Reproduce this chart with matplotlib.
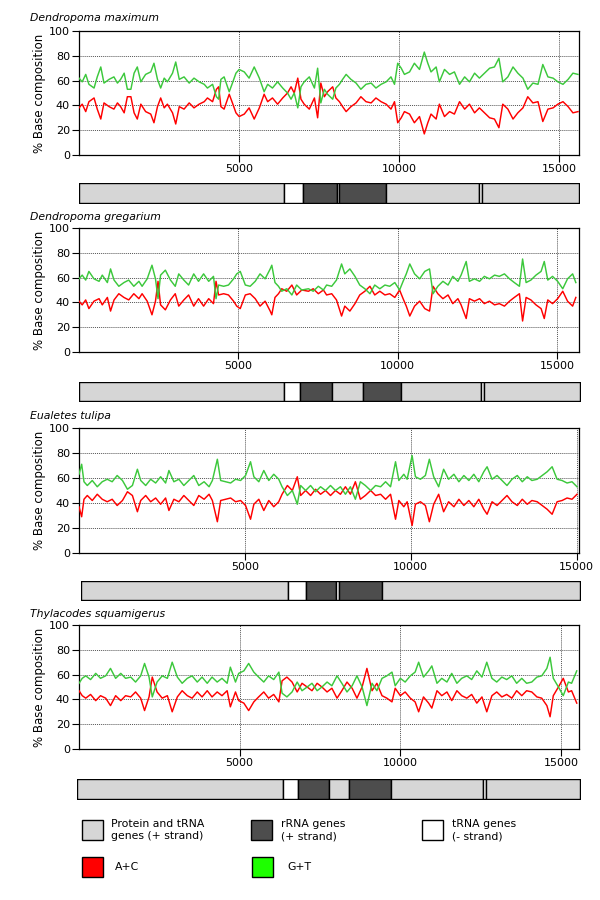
import numpy as np
import matplotlib
matplotlib.use("Agg")
import matplotlib.pyplot as plt
from matplotlib.patches import Rectangle

# Sliding-window base composition (% A+C) along four vermetid mitogenomes.
# G+T is the complement: 100 - (A+C)

species = ["Dendropoma maximum", "Dendropoma gregarium",
           "Eualetes tulipa", "Thylacodes squamigerus"]
genome_len = [15610, 15690, 15070, 15560]

pos_1 = [0, 100, 210, 310, 470, 570, 680, 780, 940, 1090,
         1200, 1300, 1410, 1510, 1620, 1720, 1820, 1930, 2080, 2240,
         2340, 2450, 2550, 2660, 2760, 2920, 3020, 3130, 3280, 3440,
         3590, 3750, 3910, 4010, 4170, 4290, 4360, 4430, 4530, 4690,
         4790, 4900, 5000, 5160, 5310, 5470, 5630, 5780, 5890, 6040,
         6200, 6360, 6510, 6620, 6720, 6830, 6930, 7030, 7190, 7350,
         7450, 7550, 7660, 7760, 7920, 8020, 8130, 8230, 8340, 8490,
         8650, 8800, 8960, 9120, 9270, 9430, 9590, 9740, 9850, 9950,
         10060, 10160, 10320, 10470, 10630, 10780, 10890, 10990, 11150, 11250,
         11410, 11570, 11720, 11880, 12040, 12190, 12350, 12500, 12660, 12820,
         12970, 13110, 13230, 13390, 13550, 13700, 13860, 14010, 14170, 14330,
         14480, 14640, 14800, 14950, 15110, 15270, 15420, 15580]
ac_1 = [38, 41, 35, 43, 46, 37, 29, 42, 39, 37,
        42, 39, 34, 47, 47, 34, 29, 41, 35, 33,
        26, 39, 46, 38, 41, 34, 25, 39, 37, 42,
        38, 41, 43, 46, 43, 53, 55, 39, 37, 49,
        42, 34, 31, 33, 38, 29, 38, 49, 43, 46,
        41, 46, 50, 55, 50, 62, 45, 41, 37, 46,
        30, 58, 47, 51, 55, 46, 43, 39, 35, 39,
        42, 47, 43, 42, 46, 43, 41, 37, 43, 26,
        30, 35, 33, 26, 31, 17, 26, 33, 29, 41,
        31, 35, 33, 43, 37, 41, 34, 38, 34, 30,
        29, 22, 41, 37, 29, 34, 38, 47, 42, 43,
        27, 37, 38, 41, 43, 39, 34, 35]

pos_2 = [0, 100, 210, 310, 470, 630, 730, 890, 990, 1100,
         1250, 1410, 1560, 1720, 1880, 1980, 2140, 2290, 2400, 2480,
         2560, 2710, 2870, 3020, 3130, 3290, 3440, 3600, 3750, 3910,
         4070, 4220, 4300, 4380, 4540, 4690, 4850, 4950, 5060, 5220,
         5370, 5530, 5680, 5840, 6000, 6050, 6150, 6260, 6360, 6520,
         6680, 6830, 6990, 7200, 7350, 7510, 7670, 7770, 7930, 8080,
         8240, 8340, 8500, 8660, 8810, 8970, 9130, 9280, 9440, 9600,
         9750, 9910, 10060, 10170, 10270, 10380, 10530, 10690, 10850, 11000,
         11110, 11260, 11420, 11580, 11730, 11890, 11990, 12150, 12250, 12410,
         12570, 12720, 12880, 13040, 13190, 13350, 13510, 13660, 13820, 13920,
         14030, 14180, 14340, 14500, 14600, 14710, 14860, 15020, 15180, 15330,
         15490, 15590]
ac_2 = [41, 38, 42, 35, 41, 43, 38, 44, 33, 42,
        47, 44, 42, 47, 43, 47, 41, 30, 41, 57,
        38, 34, 42, 47, 37, 42, 46, 37, 43, 37,
        43, 39, 57, 46, 47, 46, 41, 37, 35, 46,
        47, 43, 37, 41, 33, 30, 44, 47, 51, 49,
        54, 46, 50, 49, 51, 47, 50, 46, 47, 42,
        29, 37, 33, 39, 46, 49, 53, 46, 49, 46,
        47, 44, 50, 43, 37, 29, 37, 41, 35, 33,
        53, 47, 43, 46, 39, 43, 38, 27, 43, 41,
        43, 39, 41, 38, 39, 37, 41, 44, 47, 25,
        44, 42, 38, 35, 27, 42, 39, 43, 49, 41,
        37, 44]

pos_3 = [0, 80, 150, 250, 400, 550, 700, 850, 1000, 1150,
         1310, 1460, 1610, 1760, 1860, 2010, 2160, 2310, 2460, 2610,
         2710, 2860, 3010, 3160, 3310, 3460, 3610, 3770, 3920, 4020,
         4170, 4270, 4420, 4570, 4720, 4870, 5020, 5170, 5270, 5420,
         5570, 5720, 5870, 6020, 6120, 6280, 6430, 6580, 6680, 6830,
         6980, 7130, 7280, 7430, 7580, 7730, 7880, 8030, 8180, 8330,
         8480, 8630, 8790, 8940, 9090, 9240, 9390, 9540, 9640, 9790,
         9890, 10040, 10140, 10290, 10440, 10560, 10690, 10840, 10990, 11140,
         11300, 11450, 11600, 11750, 11900, 12050, 12200, 12300, 12450, 12600,
         12750, 12900, 13050, 13210, 13360, 13510, 13650, 13810, 13960, 14110,
         14260, 14410, 14560, 14710, 14860, 15010]
ac_3 = [37, 29, 43, 46, 42, 47, 43, 41, 43, 38,
        42, 49, 46, 33, 42, 46, 41, 44, 39, 44,
        34, 43, 41, 46, 42, 38, 46, 43, 47, 42,
        25, 42, 43, 44, 41, 42, 38, 27, 39, 43,
        34, 42, 37, 41, 47, 54, 50, 61, 46, 50,
        46, 51, 47, 50, 46, 50, 47, 53, 47, 57,
        43, 46, 50, 46, 47, 43, 47, 27, 42, 37,
        41, 22, 39, 41, 38, 25, 39, 47, 33, 41,
        37, 43, 38, 42, 37, 43, 35, 31, 41, 38,
        42, 46, 41, 38, 43, 39, 42, 41, 38, 35,
        31, 41, 42, 44, 43, 47]

pos_4 = [0, 100, 210, 360, 520, 670, 830, 980, 1140, 1300,
         1450, 1610, 1760, 1920, 2040, 2180, 2280, 2430, 2590, 2750,
         2900, 3060, 3210, 3370, 3520, 3680, 3830, 3990, 4140, 4300,
         4450, 4610, 4710, 4870, 4970, 5130, 5280, 5440, 5590, 5750,
         5900, 6060, 6220, 6320, 6470, 6630, 6790, 6940, 7100, 7250,
         7410, 7560, 7720, 7870, 8030, 8180, 8340, 8500, 8650, 8810,
         8960, 9120, 9270, 9430, 9580, 9740, 9840, 10000, 10150, 10310,
         10460, 10570, 10720, 10880, 10980, 11140, 11290, 11450, 11600, 11760,
         11910, 12070, 12220, 12380, 12540, 12690, 12850, 13000, 13160, 13310,
         13470, 13620, 13780, 13930, 14090, 14250, 14400, 14560, 14660, 14760,
         14920, 15070, 15230, 15330, 15490]
ac_4 = [47, 43, 41, 44, 39, 43, 41, 35, 43, 39,
        43, 42, 46, 41, 31, 42, 58, 46, 41, 43,
        30, 42, 47, 43, 41, 46, 42, 47, 42, 46,
        43, 47, 34, 46, 39, 37, 31, 38, 42, 46,
        41, 44, 38, 55, 58, 54, 46, 53, 50, 47,
        53, 50, 46, 49, 41, 47, 54, 49, 41, 50,
        65, 47, 53, 43, 41, 38, 49, 43, 46, 41,
        38, 30, 42, 37, 33, 47, 43, 46, 39, 47,
        43, 41, 44, 37, 42, 30, 43, 46, 42, 44,
        41, 47, 43, 47, 46, 42, 41, 35, 26, 43,
        50, 57, 46, 47, 37]

# Gene maps: segment boundaries (bp) and kind of each segment
# P = protein and tRNA genes (+), R = rRNA genes (+), N = tRNA genes (-)
map_edges_1 = [0, 6400, 7000, 8050, 8120, 9580, 12480, 12570, 15610]
map_kinds_1 = ["P", "N", "R", "N", "R", "P", "N", "P"]
map_edges_2 = [0, 6420, 6910, 7920, 8880, 10070, 12600, 12690, 15690]
map_kinds_2 = ["P", "N", "R", "P", "R", "P", "N", "P"]
map_edges_3 = [0, 6250, 6810, 7700, 7800, 9090, 15070]
map_kinds_3 = ["P", "N", "R", "N", "R", "P"]
map_edges_4 = [0, 6370, 6850, 7800, 8410, 9710, 12550, 12640, 15560]
map_kinds_4 = ["P", "N", "R", "P", "R", "P", "N", "P"]

x_ticks = [5000, 10000, 15000]
y_ticks = [0, 20, 40, 60, 80, 100]

positions = [pos_1, pos_2, pos_3, pos_4]
ac_values = [ac_1, ac_2, ac_3, ac_4]
map_edges = [map_edges_1, map_edges_2, map_edges_3, map_edges_4]
map_kinds = [map_kinds_1, map_kinds_2, map_kinds_3, map_kinds_4]

kind_color = {"P": "#d6d6d6", "R": "#4d4d4d", "N": "#ffffff"}
red = "#ff0000"
green = "#3cc83c"

W, H = 600, 900


def px_rect(x0, y0, x1, y1):
    # pixel box (top-left origin) -> figure fraction rect
    return [x0 / W, 1 - y1 / H, (x1 - x0) / W, (y1 - y0) / H]


# pixel layout of each panel: plot box, gene-map box, title y
plot_boxes = [(79, 31, 579, 155), (79, 228, 579, 352),
              (79, 428, 579, 553), (79, 625, 579, 749)]
map_boxes = [(79, 183, 579, 203), (79, 382, 580, 401),
             (81, 581, 580, 600), (77, 779, 580, 799)]
title_y = [18, 217, 416, 614]

plt.rcParams["font.family"] = "DejaVu Sans"
fig = plt.figure(figsize=(6, 9), dpi=100)

for i in range(4):
    ax = fig.add_axes(px_rect(*plot_boxes[i]))
    x = np.array(positions[i])
    ac = np.array(ac_values[i])
    gt = 100 - ac

    ax.plot(x, ac, color=red, lw=1.05, zorder=3)
    ax.plot(x, gt, color=green, lw=1.05, zorder=3)

    ax.set_xlim(0, genome_len[i])
    ax.set_ylim(0, 100)
    ax.set_xticks(x_ticks)
    ax.set_yticks(y_ticks)
    ax.tick_params(axis="both", direction="out", length=5, width=0.8,
                   labelsize=8, pad=1.5, color="black")
    ax.grid(True, linestyle=(0, (1, 1)), color="#555555", lw=0.7, zorder=1)
    for sp in ax.spines.values():
        sp.set_linewidth(0.9)
    ax.set_ylabel("% Base composition", fontsize=8.5, labelpad=2)

    fig.text(30 / W, 1 - title_y[i] / H, species[i], fontsize=7.8,
             style="italic", va="center", ha="left")

    # gene map
    mx = fig.add_axes(px_rect(*map_boxes[i]))
    edges = map_edges[i]
    for k, kind in enumerate(map_kinds[i]):
        mx.broken_barh([(edges[k], edges[k + 1] - edges[k])], (0, 1),
                       facecolors=kind_color[kind], edgecolors="black",
                       linewidth=1.0)
    mx.set_xlim(edges[0], edges[-1])
    mx.set_ylim(0, 1)
    mx.axis("off")

# legend block, drawn in pixel coordinates
lg = fig.add_axes([0, 0, 1, 1 - 800 / H])
lg.set_xlim(0, W)
lg.set_ylim(H, 800)
lg.axis("off")

legend_items = [
    (82, 820, kind_color["P"], 111, "Protein and tRNA\ngenes (+ strand)"),
    (251, 820, kind_color["R"], 281, "rRNA genes\n(+ strand)"),
    (422, 820, kind_color["N"], 452, "tRNA genes\n(- strand)"),
    (82, 857, "#ff0000", 115, "A+C"),
    (252, 857, "#1eff00", 287, "G+T"),
]
for bx, by, col, tx, label in legend_items:
    lg.add_patch(Rectangle((bx, by), 21, 20, facecolor=col,
                           edgecolor="black", lw=1.0))
    lg.text(tx, by + 10, label, fontsize=7.8, va="center", ha="left",
            linespacing=1.35)

fig.savefig("out.png", dpi=100)
